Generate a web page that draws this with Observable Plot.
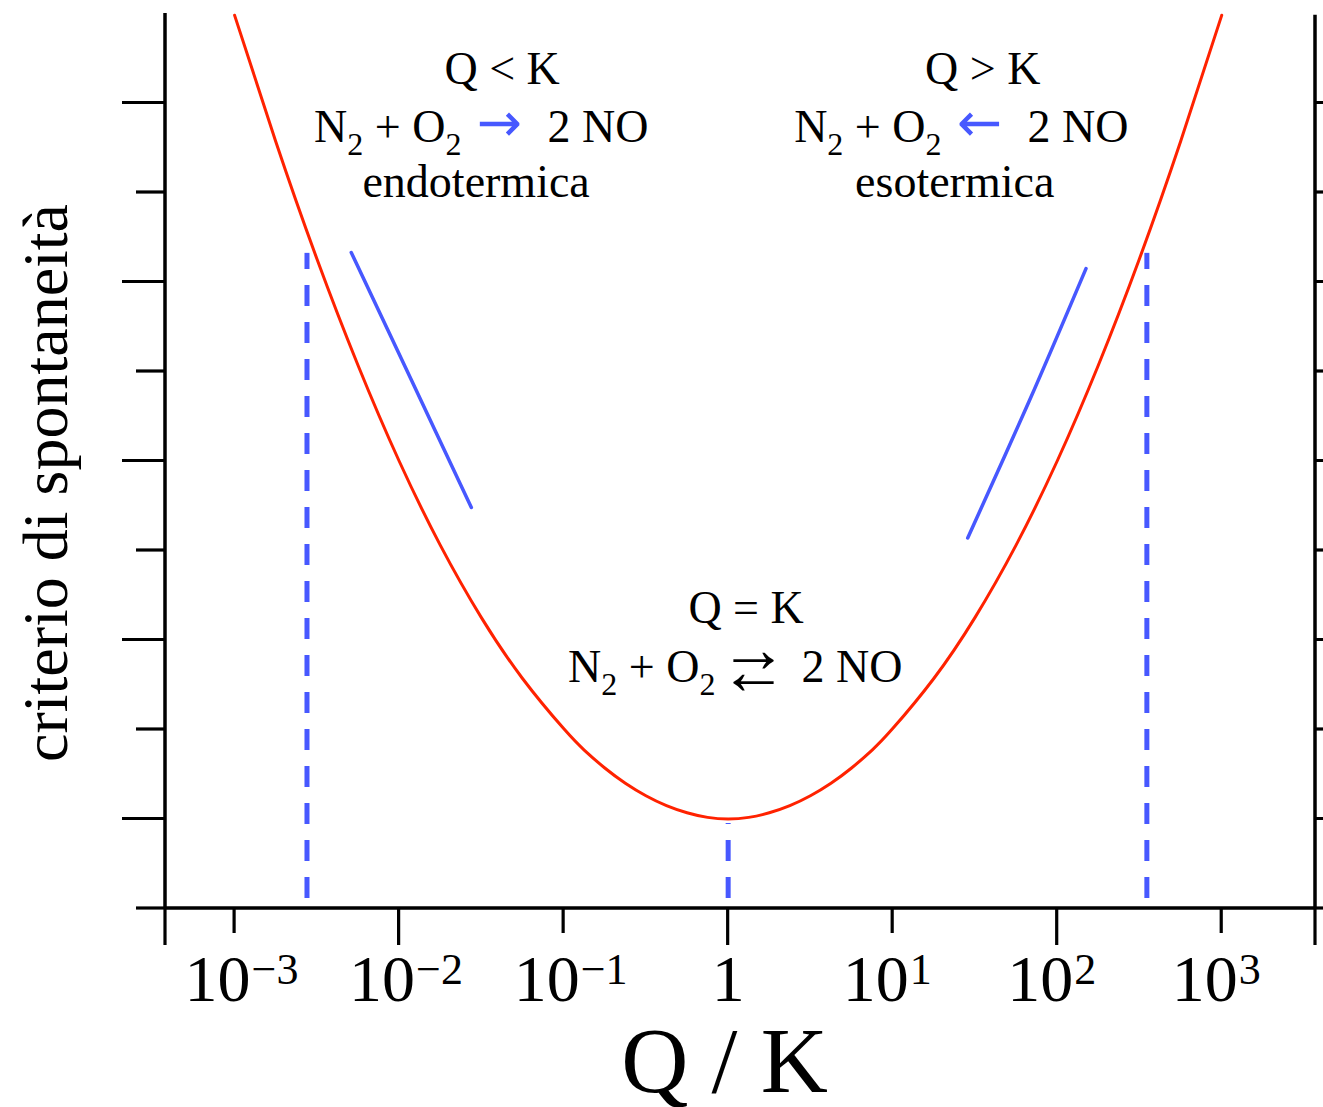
<!DOCTYPE html>
<html><head><meta charset="utf-8">
<script src="https://cdn.jsdelivr.net/npm/d3@7"></script>
<script src="https://cdn.jsdelivr.net/npm/@observablehq/plot@0.6"></script>
<style>html,body{margin:0;padding:0;background:#fff}</style>
</head><body><div id="chart"></div>
<script>
const SERIF = "'Liberation Serif','Times New Roman',Times,serif";
const RED = "#ff2200", BLUE = "#4758ff";

// red curve (log10 Q/K, value)
const curveLog10Q = [-3, -2.75, -2.5, -2.25, -2, -1.75, -1.5, -1.25, -1, -0.875, -0.75, -0.625, -0.5, -0.375, -0.25, -0.125, 0,
                     0.125, 0.25, 0.375, 0.5, 0.625, 0.75, 0.875, 1, 1.25, 1.5, 1.75, 2, 2.25, 2.5, 2.75, 3];
const curveValue = [9.98, 8.57, 7.26, 6.07, 5.00, 4.06, 3.25, 2.57, 2.01, 1.77, 1.57, 1.40, 1.26, 1.15, 1.07, 1.018, 1.00,
                    1.018, 1.07, 1.15, 1.26, 1.40, 1.57, 1.77, 2.01, 2.57, 3.25, 4.06, 5.00, 6.07, 7.26, 8.57, 9.98];
// blue solid segments
const slopeSide = ["left", "left", "left", "right", "right", "right"];
const slopeLog10Q = [-2.291, -1.924, -1.561, 1.456, 1.830, 2.175];
const slopeValue = [7.33, 5.90, 4.48, 4.14, 5.67, 7.15];
// blue dashed markers
const markerLog10Q = [-2.56, 0, 2.545];
const markerTop = [7.32, 0.95, 7.32];
// axes
const xDomainLog = [-3.42, 3.57];
const yDomain = [0, 10];
const yTicksLong = [1, 3, 5, 7, 9];
const yTicksShort = [0, 2, 4, 6, 8];
const xTicksLong = [1e-2, 1, 1e2];
const xTicksShort = [1e-3, 1e-1, 1e1, 1e3];
const xTickValues = [1e-3, 1e-2, 1e-1, 1, 1e1, 1e2, 1e3];
const xTickMantissa = ["10", "10", "10", "1", "10", "10", "10"];
const xTickExponent = ["\u22123", "\u22122", "\u22121", "", "1", "2", "3"];
const xLabel = "Q / K";
const yLabel = "criterio di spontaneità";
// plain annotation lines
const noteText = ["Q < K", "endotermica", "Q > K", "esotermica", "Q = K"];
const noteLog10Q = [-1.371, -1.529, 1.550, 1.380, 0.112];
const noteValue = [9.207, 7.944, 9.207, 7.944, 3.184];
// reaction lines, positioned at their arrow
const reactionLeft = ["N|2| + O|2|", "N|2| + O|2|", "N|2| + O|2|"];
const reactionRight = ["2 NO", "2 NO", "2 NO"];
const reactionArrow = ["\u2192", "\u2190", "\u21C4"];
const reactionLog10Q = [-1.387, 1.531, 0.157];
const reactionValue = [8.559, 8.559, 2.525];

const curve = curveLog10Q.map((l, i) => ({q: 10 ** l, v: curveValue[i]}));
const slopes = slopeLog10Q.map((l, i) => ({q: 10 ** l, v: slopeValue[i], side: slopeSide[i]}));
const markers = markerLog10Q.map((l, i) => ({q: 10 ** l, top: markerTop[i]}));
const xmin = 10 ** xDomainLog[0], xmax = 10 ** xDomainLog[1];
const tickLabels = xTickValues.map((v, i) => ({v, m: xTickMantissa[i], e: xTickExponent[i]}));
const powLabels = tickLabels.filter(d => d.e !== "");
const oneLabels = tickLabels.filter(d => d.e === "");
const notes = noteText.map((t, i) => ({t, q: 10 ** noteLog10Q[i], v: noteValue[i]}));
const reactions = reactionArrow.map((a, i) => ({a, l: reactionLeft[i], r: reactionRight[i], q: 10 ** reactionLog10Q[i], v: reactionValue[i]}));

// axis lines and ticks drawn through the plot's scales
function axesMark(index, scales) {
  const g = d3.create("svg:g").attr("stroke", "black").attr("fill", "none");
  const X = scales.x, Y = scales.y;
  const x0 = X(xmin), x1 = X(xmax), y0 = Y(0);
  const line = (a, b, c, d, w) => g.append("line").attr("x1", a).attr("y1", b).attr("x2", c).attr("y2", d).attr("stroke-width", w);
  line(x0, Y(10), x0, y0, 3.5);
  line(x1, Y(9.98), x1, y0, 3.5);
  line(x0, y0, x1, y0, 3.5);
  for (const v of yTicksLong) { line(x0 - 43, Y(v), x0, Y(v), 3.2); line(x1, Y(v), x1 + 43, Y(v), 3.2); }
  for (const v of yTicksShort) { line(x0 - 29, Y(v), x0, Y(v), 3.2); line(x1, Y(v), x1 + 29, Y(v), 3.2); }
  for (const v of [xmin, ...xTicksLong, xmax]) line(X(v), y0, X(v), y0 + 37, 3.2);
  for (const v of xTicksShort) line(X(v), y0, X(v), y0 + 25, 3.2);
  return g.node();
}

// text with |sub| subscripts
function richText(parent, str) {
  let shift = 0;
  for (const p of str.split(/(\|[^|]*\|)/)) {
    if (!p) continue;
    const s = parent.append("tspan");
    if (p[0] === "|") { s.attr("font-size", 32).attr("dy", 13 - shift).text(p.slice(1, -1)); shift = 13; }
    else { s.attr("dy", -shift).text(p); shift = 0; }
  }
}

function notesMark(index, scales) {
  const g = d3.create("svg:g")
    .attr("font-family", SERIF).attr("font-size", 46).attr("fill", "black");
  for (const n of notes) {
    g.append("text").attr("text-anchor", "middle")
      .attr("x", scales.x(n.q)).attr("y", scales.y(n.v)).text(n.t);
  }
  for (const r of reactions) {
    const ax = scales.x(r.q), ay = scales.y(r.v);
    richText(g.append("text").attr("text-anchor", "end").attr("x", ax - 38).attr("y", ay)
      .style("white-space", "pre"), r.l);
    richText(g.append("text").attr("text-anchor", "start").attr("x", ax + 48).attr("y", ay)
      .style("white-space", "pre"), r.r);
    if (r.a === "\u21C4") {
      g.append("text").attr("text-anchor", "middle").attr("font-size", 68)
        .attr("x", ax).attr("y", ay - 10).text("\u2192");
      g.append("text").attr("text-anchor", "middle").attr("font-size", 68)
        .attr("x", ax).attr("y", ay + 12).text("\u2190");
    } else {
      g.append("text").attr("text-anchor", "middle").attr("font-family", "'DejaVu Sans',sans-serif")
        .attr("font-size", 54).attr("fill", BLUE).attr("x", ax).attr("y", ay - 1).text(r.a);
    }
  }
  return g.node();
}

const chart = Plot.plot({
  width: 1323, height: 1107,
  marginLeft: 165, marginRight: 8, marginTop: 13, marginBottom: 199,
  style: {background: "#fff", overflow: "hidden"},
  x: {type: "log", domain: [xmin, xmax], axis: null},
  y: {domain: yDomain, axis: null},
  marks: [
    axesMark,
    // tick labels
    Plot.text(powLabels, {x: "v", text: "m", frameAnchor: "bottom", textAnchor: "end", lineAnchor: "bottom",
      dx: 16, dy: 92, fontSize: 66, fontFamily: SERIF, fill: "black"}),
    Plot.text(powLabels, {x: "v", text: "e", frameAnchor: "bottom", textAnchor: "start", lineAnchor: "bottom",
      dx: 17, dy: 75, fontSize: 44, fontFamily: SERIF, fill: "black"}),
    Plot.text(oneLabels, {x: "v", text: "m", frameAnchor: "bottom", textAnchor: "middle", lineAnchor: "bottom",
      dy: 92, fontSize: 66, fontFamily: SERIF, fill: "black"}),
    // axis labels
    Plot.text([xLabel], {text: d => d, frameAnchor: "bottom", textAnchor: "middle", lineAnchor: "bottom", dx: -16, dy: 183,
      fontSize: 93, fontFamily: SERIF, fill: "black"}),
    Plot.text([yLabel], {text: d => d, frameAnchor: "left", textAnchor: "middle", rotate: -90, lineAnchor: "bottom",
      dx: -99, dy: 22, fontSize: 64, fontFamily: SERIF, fill: "black"}),
    // dashed markers
    Plot.ruleX(markers, {x: "q", y1: 0, y2: "top", stroke: BLUE, strokeWidth: 5,
      strokeDasharray: "21,16", strokeDashoffset: 27}),
    // red curve
    Plot.line(curve, {x: "q", y: "v", stroke: RED, strokeWidth: 3, curve: "natural"}),
    // blue slope segments
    Plot.line(slopes, {x: "q", y: "v", z: "side", stroke: BLUE, strokeWidth: 3.5, curve: "catmull-rom"}),
    notesMark
  ]
});
document.getElementById("chart").append(chart);
</script>
</body></html>
